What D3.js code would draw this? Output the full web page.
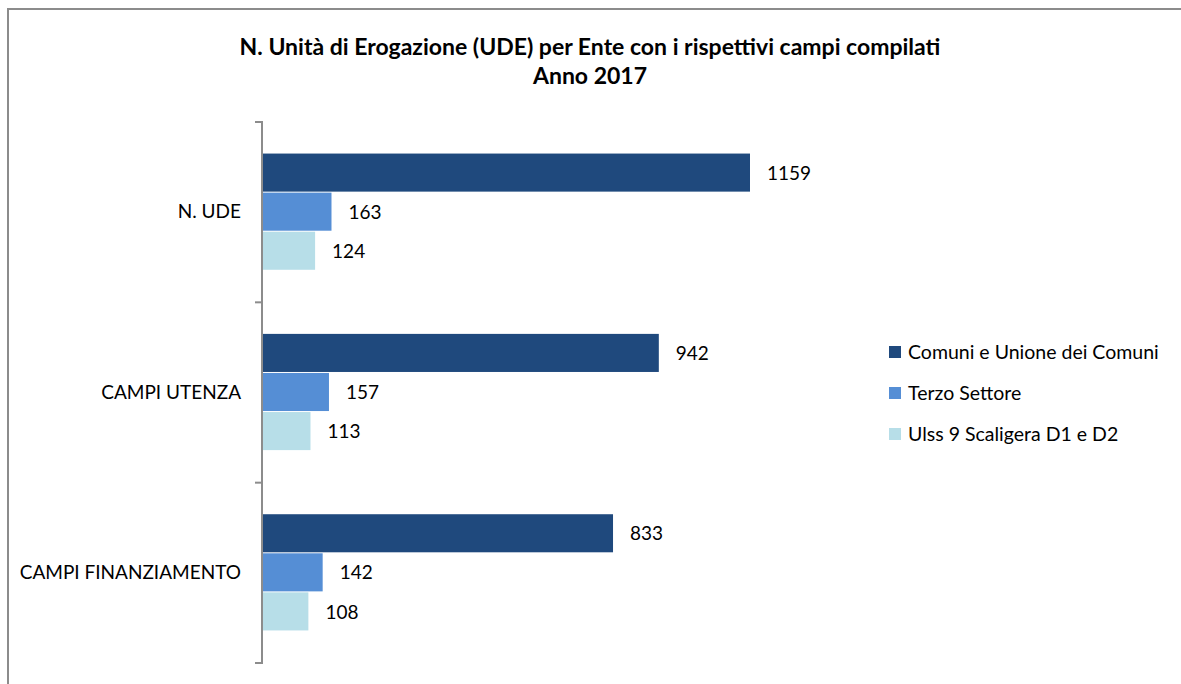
<!DOCTYPE html>
<html>
<head>
<meta charset="utf-8">
<script src="https://cdn.jsdelivr.net/npm/d3@7.9.0/dist/d3.min.js"></script>
<style>
  body { margin: 0; background: #fff; }
  svg text { font-family: Lato, "Open Sans", sans-serif; fill: #000; }
</style>
</head>
<body>
<svg id="chart" width="1181" height="684"></svg>
<script>
const categories = ["N. UDE", "CAMPI UTENZA", "CAMPI FINANZIAMENTO"];
const seriesNames = ["Comuni e Unione dei Comuni", "Terzo Settore", "Ulss 9 Scaligera D1 e D2"];
const comuni = [1159, 942, 833];
const terzo = [163, 157, 142];
const ulss = [124, 113, 108];
const colors = ["#1f497d", "#558ed5", "#b7dee8"];

const svg = d3.select("#chart");

// outer frame (only top and left edges fall inside the picture)
svg.append("path")
  .attr("d", "M8,700 L8,9 L1200,9")
  .attr("fill", "none")
  .attr("stroke", "#8c8c8c")
  .attr("stroke-width", 2);

svg.append("text").attr("x", 590).attr("y", 55)
  .attr("text-anchor", "middle").attr("font-size", 23).attr("font-weight", "bold")
  .text("N. Unità di Erogazione (UDE) per Ente con i rispettivi campi compilati");
svg.append("text").attr("x", 590).attr("y", 84)
  .attr("text-anchor", "middle").attr("font-size", 23).attr("font-weight", "bold")
  .text("Anno 2017");

const plotLeft = 263, plotTop = 122, plotBottom = 663;

const x = d3.scaleLinear().domain([0, 1159]).range([plotLeft, 750]);
const y = d3.scaleBand().domain(categories).range([plotTop, plotBottom]);
const inner = d3.scaleBand().domain(seriesNames).range([y.bandwidth() * 0.175, y.bandwidth() * 0.825]);

const data = categories.map((c, i) => ({
  cat: c,
  vals: [comuni[i], terzo[i], ulss[i]]
}));

const groups = svg.selectAll("g.cat").data(data).join("g")
  .attr("class", "cat")
  .attr("transform", d => `translate(0,${y(d.cat)})`);

groups.selectAll("rect").data(d => d.vals.map((v, j) => ({ v, s: seriesNames[j], j })))
  .join("rect")
  .attr("x", plotLeft)
  .attr("y", d => inner(d.s))
  .attr("width", d => x(d.v) - plotLeft)
  .attr("height", inner.bandwidth() - 1)
  .attr("fill", d => colors[d.j]);

groups.selectAll("text.val").data(d => d.vals.map((v, j) => ({ v, s: seriesNames[j] })))
  .join("text")
  .attr("class", "val")
  .attr("x", d => x(d.v) + 17)
  .attr("y", d => inner(d.s) + inner.bandwidth() / 2)
  .attr("dy", "0.35em")
  .attr("font-size", 19)
  .text(d => d.v);

// category axis
const axis = svg.append("g").attr("transform", `translate(${plotLeft - 1},0)`)
  .call(d3.axisLeft(y).tickSize(0).tickPadding(21));
axis.select(".domain").attr("stroke", "#8c8c8c").attr("stroke-width", 2)
  .attr("d", `M-7,${plotTop}H0V${plotBottom}H-7`);
axis.selectAll("text").attr("font-size", 19).attr("font-family", "Lato, sans-serif");
const bounds = [plotTop, ...categories.slice(1).map(c => y(c)), plotBottom];
axis.selectAll("line.sep").data(bounds).join("line")
  .attr("class", "sep")
  .attr("x1", -7).attr("x2", 0)
  .attr("y1", d => d).attr("y2", d => d)
  .attr("stroke", "#8c8c8c").attr("stroke-width", 2);

// legend
const legend = svg.append("g").attr("transform", "translate(889,352)");
seriesNames.forEach((s, i) => {
  const row = legend.append("g").attr("transform", `translate(0,${i * 41})`);
  row.append("rect").attr("x", 0).attr("y", -6).attr("width", 12).attr("height", 12).attr("fill", colors[i]);
  row.append("text").attr("x", 19).attr("y", 0).attr("dy", "0.35em").attr("font-size", 19.5).text(s);
});
</script>
</body>
</html>
